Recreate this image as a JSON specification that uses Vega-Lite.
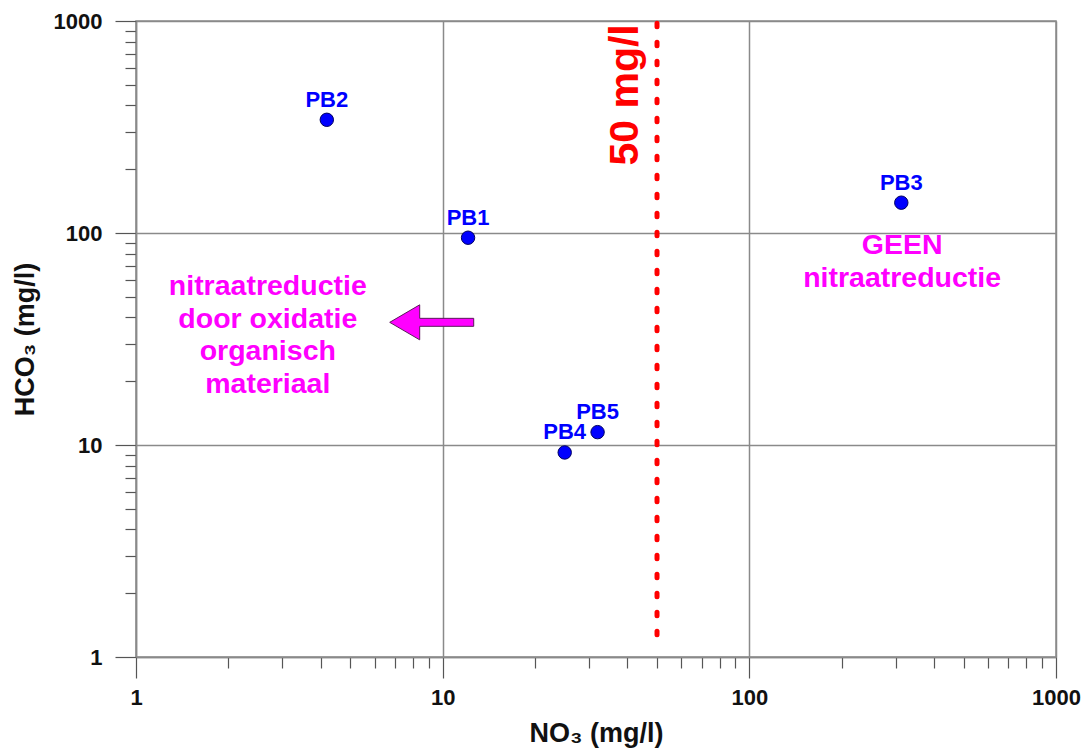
{
  "$schema": "https://vega.github.io/schema/vega-lite/v6.json",
  "width": 920,
  "height": 636,
  "autosize": {"type": "none"},
  "padding": {"left": 136, "top": 21, "right": 32, "bottom": 96},
  "background": "white",
  "config": {
    "font": "Liberation Sans",
    "view": {"stroke": "#8a8a8a", "strokeWidth": 1.5},
    "axis": {
      "domainColor": "#8a8a8a",
      "domainWidth": 1.5,
      "gridColor": "#8a8a8a",
      "gridWidth": 1.5,
      "tickColor": "#555555",
      "tickWidth": 1.2,
      "labelFont": "Liberation Sans",
      "labelFontSize": 22,
      "labelFontWeight": "bold",
      "labelColor": "#111111",
      "titleFont": "Liberation Sans",
      "titleFontSize": 27,
      "titleFontWeight": "bold",
      "titleColor": "#111111"
    }
  },
  "datasets": {
    "wells": [
      {"put": "PB1", "no3": 12.1, "hco3": 95},
      {"put": "PB2", "no3": 4.19, "hco3": 342},
      {"put": "PB3", "no3": 313, "hco3": 139},
      {"put": "PB4", "no3": 25.0, "hco3": 9.22},
      {"put": "PB5", "no3": 32.0, "hco3": 11.5}
    ],
    "norm": [
      {"no3": 50, "hco3_top": 975, "hco3_bottom": 1.15}
    ],
    "normLabel": [
      {"no3": 43.2, "hco3": 208, "tekst": "50 mg/l"}
    ],
    "notes": [
      {"no3": 2.69, "hco3": 50.8, "tekst": ["nitraatreductie", "door oxidatie", "organisch", "materiaal"]},
      {"no3": 315, "hco3": 79.3, "tekst": ["GEEN", "nitraatreductie"]}
    ],
    "arrow": [
      {"no3": 9.21, "hco3": 37.9}
    ]
  },
  "layer": [
    {
      "data": {"name": "norm"},
      "mark": {"type": "rule", "color": "#ff0000", "strokeWidth": 5, "strokeCap": "round", "strokeDash": [3.5, 15.5]},
      "encoding": {
        "x": {
          "field": "no3", "type": "quantitative",
          "scale": {"type": "log", "domain": [1, 1000], "nice": false},
          "axis": {
            "title": "NO₃ (mg/l)",
            "values": [1, 2, 3, 4, 5, 6, 7, 8, 9, 10, 20, 30, 40, 50, 60, 70, 80, 90, 100, 200, 300, 400, 500, 600, 700, 800, 900, 1000],
            "labelExpr": "indexof([1, 10, 100, 1000], datum.value) >= 0 ? format(datum.value, 'd') : ''",
            "tickSize": {"condition": {"test": "indexof([1, 10, 100, 1000], datum.value) >= 0", "value": 21}, "value": 11},
            "gridOpacity": {"condition": {"test": "indexof([1, 10, 100, 1000], datum.value) >= 0", "value": 1}, "value": 0},
            "labelPadding": 9,
            "labelFlush": false,
            "labelOverlap": false,
            "titlePadding": 12
          }
        },
        "y": {
          "field": "hco3_top", "type": "quantitative",
          "scale": {"type": "log", "domain": [1, 1000], "nice": false},
          "axis": {
            "title": "HCO₃ (mg/l)",
            "values": [1, 2, 3, 4, 5, 6, 7, 8, 9, 10, 20, 30, 40, 50, 60, 70, 80, 90, 100, 200, 300, 400, 500, 600, 700, 800, 900, 1000],
            "labelExpr": "indexof([1, 10, 100, 1000], datum.value) >= 0 ? format(datum.value, 'd') : ''",
            "tickSize": {"condition": {"test": "indexof([1, 10, 100, 1000], datum.value) >= 0", "value": 21}, "value": 11},
            "gridOpacity": {"condition": {"test": "indexof([1, 10, 100, 1000], datum.value) >= 0", "value": 1}, "value": 0},
            "labelPadding": 13,
            "labelFlush": false,
            "labelOverlap": false,
            "titlePadding": 14
          }
        },
        "y2": {"field": "hco3_bottom"}
      }
    },
    {
      "data": {"name": "normLabel"},
      "mark": {"type": "text", "color": "#ff0000", "fontSize": 41, "fontWeight": "bold", "angle": 270, "align": "left", "baseline": "alphabetic"},
      "encoding": {
        "x": {"field": "no3", "type": "quantitative"},
        "y": {"field": "hco3", "type": "quantitative"},
        "text": {"field": "tekst"}
      }
    },
    {
      "data": {"name": "notes"},
      "mark": {"type": "text", "color": "#ff00ff", "fontSize": 28.5, "fontWeight": "bold", "align": "center", "baseline": "alphabetic", "lineHeight": 32.5},
      "encoding": {
        "x": {"field": "no3", "type": "quantitative"},
        "y": {"field": "hco3", "type": "quantitative"},
        "text": {"field": "tekst"}
      }
    },
    {
      "data": {"name": "arrow"},
      "mark": {
        "type": "point",
        "filled": true,
        "fill": "#ff00ff",
        "stroke": "#5a1a5a",
        "strokeWidth": 1,
        "opacity": 1,
        "size": 7056,
        "shape": "M -1 0 L -0.286 -0.417 L -0.286 -0.095 L 1 -0.095 L 1 0.095 L -0.286 0.095 L -0.286 0.417 Z"
      },
      "encoding": {
        "x": {"field": "no3", "type": "quantitative"},
        "y": {"field": "hco3", "type": "quantitative"}
      }
    },
    {
      "data": {"name": "wells"},
      "mark": {"type": "point", "filled": true, "fill": "#0000ff", "stroke": "#000060", "strokeWidth": 1, "opacity": 1, "size": 180, "shape": "circle"},
      "encoding": {
        "x": {"field": "no3", "type": "quantitative"},
        "y": {"field": "hco3", "type": "quantitative"}
      }
    },
    {
      "data": {"name": "wells"},
      "mark": {"type": "text", "color": "#0000ff", "fontSize": 22, "fontWeight": "bold", "align": "center", "baseline": "alphabetic", "dy": -13},
      "encoding": {
        "x": {"field": "no3", "type": "quantitative"},
        "y": {"field": "hco3", "type": "quantitative"},
        "text": {"field": "put"}
      }
    }
  ]
}
